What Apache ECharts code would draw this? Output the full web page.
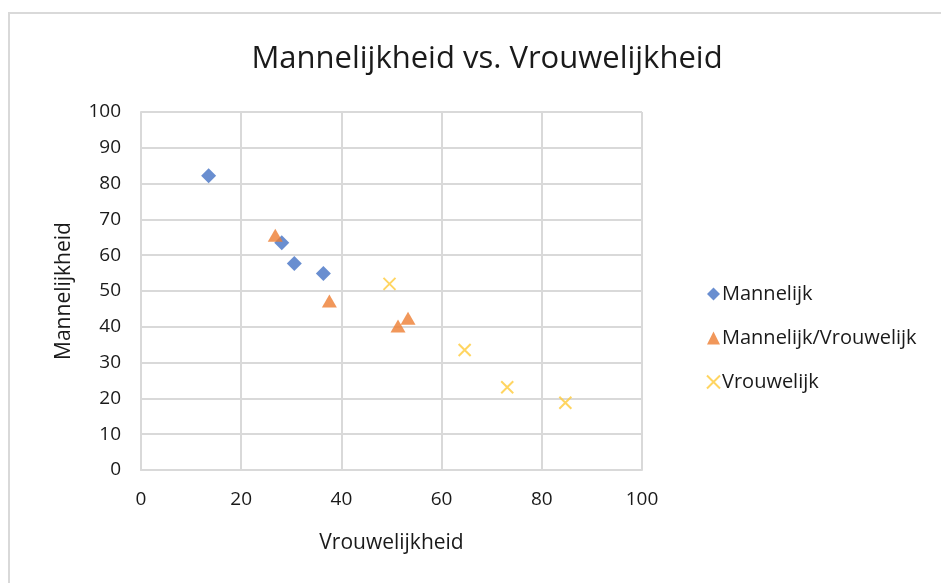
<!DOCTYPE html>
<html>
<head>
<meta charset="utf-8">
<script src="https://cdn.jsdelivr.net/npm/echarts@6/dist/echarts.min.js"></script>
<style>
  html, body { margin: 0; padding: 0; background: #fff; }
  #chart { width: 941px; height: 583px; }
</style>
</head>
<body>
<div id="chart"></div>
<script>
// [vrouwelijkheid, mannelijkheid]
var mannelijk = [[13.5, 82.2], [28.1, 63.5], [30.6, 57.7], [36.4, 54.9]];
var mannelijkVrouwelijk = [[26.8, 65.6], [37.6, 47.2], [51.3, 40.2], [53.3, 42.4]];
var vrouwelijk = [[49.6, 52.0], [64.6, 33.5], [73.1, 23.1], [84.7, 18.8]];

var seriesNames = ['Mannelijk', 'Mannelijk/Vrouwelijk', 'Vrouwelijk'];
var font = '"Open Sans", sans-serif';
var gridColor = '#d9d9d9';

var chart = echarts.init(document.getElementById('chart'));
chart.setOption({
  animation: false,
  backgroundColor: '#fff',
  graphic: [{
    type: 'rect',
    shape: { x: 9, y: 13, width: 1000, height: 1000 },
    style: { fill: 'none', stroke: '#d9d9d9', lineWidth: 2 },
    silent: true
  }],
  title: {
    text: 'Mannelijkheid vs. Vrouwelijkheid',
    left: 482,
    top: 39,
    textAlign: 'center',
    textStyle: { fontFamily: font, fontSize: 31, fontWeight: 'normal', color: '#1a1a1a' }
  },
  grid: { left: 141, right: 299, top: 112, bottom: 113 },
  legend: {
    orient: 'vertical',
    left: 701,
    top: 279,
    itemGap: 24,
    itemWidth: 13,
    itemHeight: 13,
    textStyle: { fontFamily: font, fontSize: 20, color: '#1a1a1a', padding: [0, 0, 0, -3] },
    data: seriesNames
  },
  xAxis: {
    type: 'value',
    min: 0, max: 100, interval: 20,
    name: 'Vrouwelijkheid',
    nameLocation: 'middle',
    nameGap: 63,
    nameTextStyle: { fontFamily: font, fontSize: 21, color: '#1a1a1a' },
    axisLine: { show: true, lineStyle: { color: gridColor, width: 2 } },
    axisTick: { show: false },
    axisLabel: { fontFamily: font, fontSize: 19, color: '#1a1a1a', margin: 20 },
    splitLine: { lineStyle: { color: gridColor, width: 2 } }
  },
  yAxis: {
    type: 'value',
    min: 0, max: 100, interval: 10,
    name: 'Mannelijkheid',
    nameLocation: 'middle',
    nameGap: 66,
    nameTextStyle: { fontFamily: font, fontSize: 21, color: '#1a1a1a' },
    axisLine: { show: true, lineStyle: { color: gridColor, width: 2 } },
    axisTick: { show: false },
    axisLabel: { fontFamily: font, fontSize: 19, color: '#1a1a1a', margin: 20 },
    splitLine: { lineStyle: { color: gridColor, width: 2 } }
  },
  series: [
    {
      name: seriesNames[0],
      type: 'scatter',
      symbol: 'diamond',
      symbolSize: 15,
      itemStyle: { color: '#4472C4' },
      data: mannelijk
    },
    {
      name: seriesNames[1],
      type: 'scatter',
      symbol: 'triangle',
      symbolSize: [15, 13],
      itemStyle: { color: '#ED7D31' },
      data: mannelijkVrouwelijk
    },
    {
      name: seriesNames[2],
      type: 'scatter',
      symbol: 'path://M0,0L10,10M10,0L0,10',
      symbolSize: 12,
      itemStyle: { color: 'transparent', borderColor: '#FFCA3A', borderWidth: 2 },
      data: vrouwelijk
    }
  ]
});
</script>
</body>
</html>
